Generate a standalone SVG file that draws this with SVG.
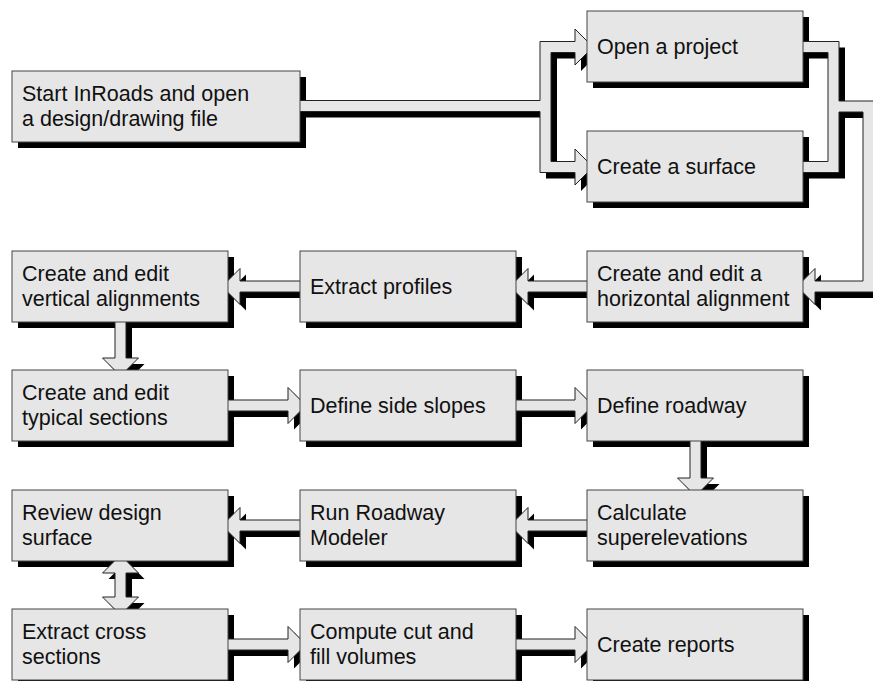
<svg xmlns="http://www.w3.org/2000/svg" xmlns:xlink="http://www.w3.org/1999/xlink" width="873" height="681" viewBox="0 0 873 681">
<style>
  .shadows { fill: #000; stroke: none; }
  .conns { fill: #e6e6e6; stroke: #222; stroke-width: 1; stroke-linejoin: miter; }
  .box { fill: #e6e6e6; stroke: #444; stroke-width: 1; }
  .lbl { font-family: "Liberation Sans", Arial, sans-serif; font-size: 21.5px; fill: #111; }
</style>
<rect x="0" y="0" width="873" height="681" fill="#fff"/>
<g id="shadow-layer" class="shadows">
  <rect x="18" y="77" width="288" height="71"/>
  <rect x="593" y="17" width="216" height="71"/>
  <rect x="593" y="137" width="216" height="71"/>
  <rect x="593" y="257" width="216" height="71"/>
  <rect x="306" y="257" width="216" height="71"/>
  <rect x="18" y="257" width="216" height="71"/>
  <rect x="18" y="376" width="216" height="71"/>
  <rect x="306" y="376" width="216" height="71"/>
  <rect x="593" y="376" width="216" height="71"/>
  <rect x="593" y="496" width="216" height="71"/>
  <rect x="306" y="496" width="216" height="71"/>
  <rect x="18" y="496" width="216" height="71"/>
  <rect x="18" y="615" width="216" height="71"/>
  <rect x="306" y="615" width="216" height="71"/>
  <rect x="593" y="615" width="216" height="71"/>
  <g transform="translate(6,6)">
    <use xlink:href="#c1"/><use xlink:href="#c2"/><use xlink:href="#c3"/><use xlink:href="#c4"/>
    <use xlink:href="#c5"/><use xlink:href="#c6"/><use xlink:href="#c7"/><use xlink:href="#c8"/>
    <use xlink:href="#c9"/><use xlink:href="#c10"/><use xlink:href="#c11"/><use xlink:href="#c12"/>
    <use xlink:href="#c13"/>
  </g>
</g>
<g id="connectors" class="conns">
  <path id="c1" d="M297,100.5 H540 V41.5 H575 V29 L593,47 L575,65 V52.5 H551 V161.5 H575 V149 L593,167 L575,185 V172.5 H540 V111.5 H297 Z"/>
  <path id="c2" d="M800,41.5 H839 V101 H874 V292 H815 V304.5 L797,286.5 L815,268.5 V281 H863 V112 H839 V172.5 H800 V161.5 H828 V52.5 H800 Z"/>
  <path id="c3" d="M590,281 H528 V268.5 L510,286.5 L528,304.5 V292 H590 Z"/>
  <path id="c4" d="M303,281 H240 V268.5 L222,286.5 L240,304.5 V292 H303 Z"/>
  <path id="c5" d="M115,319 H126 V358 H138.5 L120.5,376 L102.5,358 H115 Z"/>
  <path id="c6" d="M225,400 H288 V387.5 L306,405.5 L288,423.5 V411 H225 Z"/>
  <path id="c7" d="M513,400 H575 V387.5 L593,405.5 L575,423.5 V411 H513 Z"/>
  <path id="c8" d="M690,438 H701 V478 H713.5 L695.5,496 L677.5,478 H690 Z"/>
  <path id="c9" d="M590,520 H528 V507.5 L510,525.5 L528,543.5 V531 H590 Z"/>
  <path id="c10" d="M303,520 H240 V507.5 L222,525.5 L240,543.5 V531 H303 Z"/>
  <path id="c11" d="M120.5,555 L138.5,573 H126 V597 H138.5 L120.5,615 L102.5,597 H115 V573 H102.5 Z"/>
  <path id="c12" d="M225,639 H288 V626.5 L306,644.5 L288,662.5 V650 H225 Z"/>
  <path id="c13" d="M513,639 H575 V626.5 L593,644.5 L575,662.5 V650 H513 Z"/>
</g>
<g id="nodes">
  <g id="n-start"><rect class="box" x="12" y="71" width="288" height="71"/>
    <text class="lbl" x="22" y="100.5">Start InRoads and open</text>
    <text class="lbl" x="22" y="126">a design/drawing file</text></g>
  <g id="n-open"><rect class="box" x="587" y="11" width="216" height="71"/>
    <text class="lbl" x="597" y="53.5">Open a project</text></g>
  <g id="n-surface"><rect class="box" x="587" y="131" width="216" height="71"/>
    <text class="lbl" x="597" y="173.5">Create a surface</text></g>
  <g id="n-halign"><rect class="box" x="587" y="251" width="216" height="71"/>
    <text class="lbl" x="597" y="280.5">Create and edit a</text>
    <text class="lbl" x="597" y="306">horizontal alignment</text></g>
  <g id="n-profiles"><rect class="box" x="300" y="251" width="216" height="71"/>
    <text class="lbl" x="310" y="293.5">Extract profiles</text></g>
  <g id="n-valign"><rect class="box" x="12" y="251" width="216" height="71"/>
    <text class="lbl" x="22" y="280.5">Create and edit</text>
    <text class="lbl" x="22" y="306">vertical alignments</text></g>
  <g id="n-typical"><rect class="box" x="12" y="370" width="216" height="71"/>
    <text class="lbl" x="22" y="399.5">Create and edit</text>
    <text class="lbl" x="22" y="425">typical sections</text></g>
  <g id="n-sideslopes"><rect class="box" x="300" y="370" width="216" height="71"/>
    <text class="lbl" x="310" y="412.5">Define side slopes</text></g>
  <g id="n-roadway"><rect class="box" x="587" y="370" width="216" height="71"/>
    <text class="lbl" x="597" y="412.5">Define roadway</text></g>
  <g id="n-superelev"><rect class="box" x="587" y="490" width="216" height="71"/>
    <text class="lbl" x="597" y="519.5">Calculate</text>
    <text class="lbl" x="597" y="545">superelevations</text></g>
  <g id="n-modeler"><rect class="box" x="300" y="490" width="216" height="71"/>
    <text class="lbl" x="310" y="519.5">Run Roadway</text>
    <text class="lbl" x="310" y="545">Modeler</text></g>
  <g id="n-review"><rect class="box" x="12" y="490" width="216" height="71"/>
    <text class="lbl" x="22" y="519.5">Review design</text>
    <text class="lbl" x="22" y="545">surface</text></g>
  <g id="n-cross"><rect class="box" x="12" y="609" width="216" height="71"/>
    <text class="lbl" x="22" y="638.5">Extract cross</text>
    <text class="lbl" x="22" y="664">sections</text></g>
  <g id="n-volumes"><rect class="box" x="300" y="609" width="216" height="71"/>
    <text class="lbl" x="310" y="638.5">Compute cut and</text>
    <text class="lbl" x="310" y="664">fill volumes</text></g>
  <g id="n-reports"><rect class="box" x="587" y="609" width="216" height="71"/>
    <text class="lbl" x="597" y="651.5">Create reports</text></g>
</g>
</svg>
